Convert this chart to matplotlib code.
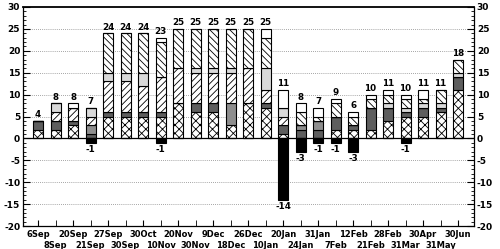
import matplotlib
matplotlib.use("Agg")
import matplotlib.pyplot as plt
import numpy as np

dates = ["6Sep", "8Sep", "20Sep", "21Sep", "27Sep", "30Sep", "30Oct", "10Nov",
         "20Nov", "30Nov", "9Dec", "18Dec", "26Dec", "10Jan", "20Jan", "24Jan",
         "31Jan", "7Feb", "12Feb", "21Feb", "28Feb", "31Mar", "30Apr", "31May",
         "30Jun"]

# stacked components, bottom to top
cross = [2, 2, 3, 0, 5, 5, 5, 5, 8, 6, 6, 3, 8, 7, 1, 0, 0, 2, 2, 2, 4, 5, 5, 6, 11]
dark = [2, 2, 1, 1, 1, 1, 1, 1, 0, 2, 2, 0, 0, 1, 2, 2, 2, 3, 1, 5, 3, 1, 2, 1, 3]
medium = [0, 0, 0, 2, 0, 0, 0, 0, 0, 0, 0, 5, 0, 0, 0, 1, 2, 0, 0, 0, 0, 0, 0, 0, 0]
fwd = [0, 2, 3, 2, 7, 7, 6, 8, 8, 7, 7, 7, 8, 3, 2, 0, 0, 0, 0, 0, 0, 0, 0, 0, 0]
light = [0, 2, 0, 2, 2, 2, 3, 0, 0, 1, 1, 1, 0, 5, 2, 0, 0, 0, 0, 0, 1, 1, 1, 1, 1]
back = [0, 0, 0, 0, 9, 9, 9, 8, 9, 9, 9, 9, 9, 7, 0, 3, 1, 3, 2, 2, 2, 2, 1, 3, 3]
white = [0, 0, 1, 0, 0, 0, 0, 1, 0, 0, 0, 0, 0, 2, 4, 2, 2, 1, 1, 1, 1, 1, 2, 0, 0]
negative = [0, 0, 0, -1, 0, 0, 0, -1, 0, 0, 0, 0, 0, 0, -14, -3, -1, -1, -3,
            0, 0, -1, 0, 0, 0]

plt.rcParams['hatch.linewidth'] = 0.6
plt.rcParams['axes.unicode_minus'] = False
plt.rcParams['font.family'] = ['DejaVu Sans']

fig = plt.figure(figsize=(5, 2.49), dpi=100)
ax = fig.add_axes([0.046, 0.092, 0.902, 0.880])

x = np.arange(len(dates))
w = 0.57
layers = [
    (cross, "white", "xxxx"),
    (dark, "#5e5e5e", None),
    (medium, "#8e8e8e", None),
    (fwd, "white", "/////"),
    (light, "#d9d9d9", None),
    (back, "white", "\\\\\\\\\\"),
    (white, "white", None),
]
bottom = np.zeros(len(dates))
for vals, col, hatch in layers:
    v = np.array(vals, dtype=float)
    ax.bar(x, v, w, bottom=bottom, color=col, hatch=hatch,
           edgecolor="black", linewidth=0.8, zorder=3)
    bottom += v

ax.bar(x, negative, w, color="black", edgecolor="black", linewidth=0.8, zorder=3)

for xi, tot in zip(x, bottom):
    ax.text(xi, tot + 0.4, f"{int(tot)}", ha="center", va="bottom",
            fontsize=6.3, fontweight="bold", zorder=4)
for xi, n in zip(x, negative):
    if n < 0:
        ax.text(xi, n - 0.5, f"{n}", ha="center", va="top",
                fontsize=6.3, fontweight="bold", zorder=4)

ax.axhline(0, color="black", linewidth=0.9, zorder=4)
for g in [-15, -10, -5, 5, 10, 15, 20, 25]:
    ax.axhline(g, color="#888888", linewidth=0.6, linestyle=(0, (1, 1.5)), zorder=1)

ax.set_xlim(-0.86, 24.91)
ax.set_ylim(-20, 30)
ax.set_yticks(range(-20, 31, 5))
ax.set_yticks(range(-20, 31, 1), minor=True)
ax.tick_params(axis="y", which="both", direction="in", left=True, right=True,
               labelleft=True, labelright=True, labelsize=6.5, pad=2)
ax.tick_params(axis="y", which="major", length=5)
ax.tick_params(axis="y", which="minor", length=2.5)
for lab in ax.get_yticklabels():
    lab.set_fontweight("bold")

# two staggered rows of date labels
ax.set_xticks(x[::2], dates[::2], fontsize=6, fontweight="bold")
ax.set_xticks(x[1::2], dates[1::2], minor=True, fontsize=6, fontweight="bold")
ax.tick_params(axis="x", which="both", direction="in", length=4)
ax.tick_params(axis="x", which="major", pad=3)
ax.tick_params(axis="x", which="minor", pad=11)

for s in ax.spines.values():
    s.set_linewidth(0.9)
ax.spines["top"].set_linewidth(1.3)

fig.savefig("out.png", dpi=100)
